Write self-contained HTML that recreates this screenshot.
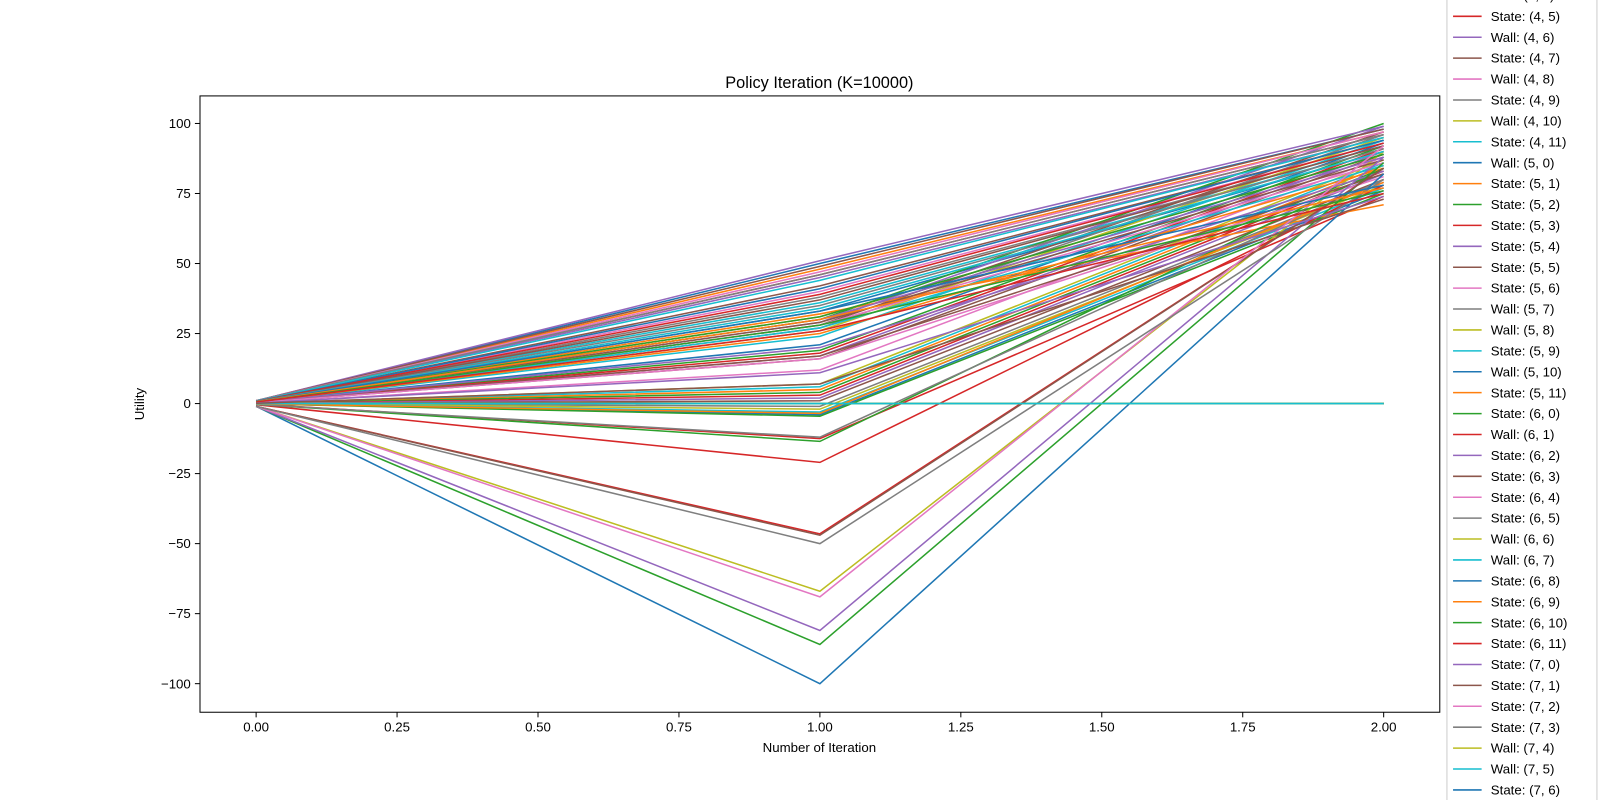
<!DOCTYPE html>
<html><head><meta charset="utf-8"><style>
body{margin:0;background:#fff}
svg{display:block;font-family:"Liberation Sans","DejaVu Sans",sans-serif}
</style></head><body>
<svg id="chart" width="1600" height="800" viewBox="0 0 1600 800" xmlns="http://www.w3.org/2000/svg">
<rect width="1600" height="800" fill="#fff"/>
<defs><clipPath id="clip"><rect x="196" y="94" width="1215" height="604"/></clipPath></defs>
<g transform="scale(1.0204)">
<text x="803" y="86" font-size="16" text-anchor="middle">Policy Iteration (K=10000)</text>
<text x="803" y="737" font-size="13" text-anchor="middle">Number of Iteration</text>
<text transform="translate(141,396) rotate(-90)" font-size="13" text-anchor="middle">Utility</text>
<g id="lines" clip-path="url(#clip)"></g>
<g id="axes"></g>
<g id="legend"></g>
</g>
</svg>
<script>
const types = [
'S','S','W','S','S','S','S','S','W','S','S','S',
'S','W','S','S','W','S','S','S','S','W','S','S',
'S','S','S','W','S','S','W','S','S','S','S','W',
'W','S','S','S','S','W','S','S','S','S','S','S',
'S','S','S','W','W','S','W','S','W','S','W','S',
'W','S','S','S','S','S','S','W','W','S','W','S',
'S','W','S','S','S','S','W','W','S','S','S','S',
'S','S','S','S','W','W','S','S','S','S','S','S'];
const v0 = [
1,1,0,1,1,0.8,0.8,0.7,0,0.7,0.6,0.6,
0.6,0,0.5,0.5,0,0.5,0.4,0.4,0.4,0,0.3,0.3,
0.3,0.3,0.2,0,0.1,0.1,0,0.1,0.1,0,0,0,
0,0,0,-0.1,-0.1,0,-0.1,-0.2,1,1,1,1,
-1,0.9,0.8,0,0,0.8,0,0.7,0,0.7,0,0.6,
0,0.6,0.6,-0.4,0.6,0.5,0.5,0,0,0.5,0,0.5,
-0.3,0,0.4,0.3,0.3,-0.3,0,0,-1,-0.1,-1,-1,
-1,-1,-1,-1,0,0,0.6,0.6,0.5,0.5,0.2,0.1];
const v1 = [
50,48,0,46,45,42,40,38,0,36,33,31,
30,0,29,28,0,27,26,24,21,0,19,18,
17,16,12,0,7,6,0,5,4,3,2,1,
0,-1,-2,-3,-4,0,-4.5,-12.5,51,49,47,46,
-67,44,41,0,0,39,0,37,0,35,0,34,
0,32,31,-21,30,29,28,0,0,27,0,25,
-13.5,0,20,17,16,-12,0,0,-100,-3.5,-86,-46.5,
-81,-47,-69,-50,0,0,33,30,28,26,11,7];
const v2 = [
98,97,0,96,95,94,93,92,0,91,90,89,
100,0,99,97,0,96,95,94,93,0,92,91,
90,89,88,0,87,86,0,85,84,83,82,80,
0,79,78,77,76,0,75,74,99,98,97,96,
90,95,94,0,0,93,0,92,0,91,0,90,
0,71,89,78,88,87,86,0,0,85,0,84,
84,0,83,82,81,80,0,0,82,79,86,84,
88,84,92,80,0,0,78,77,76,75,74,73];
const xTicks = [0,0.25,0.5,0.75,1,1.25,1.5,1.75,2];
const yTicks = [-100,-75,-50,-25,0,25,50,75,100];
const colors = ['#1f77b4','#ff7f0e','#2ca02c','#d62728','#9467bd','#8c564b','#e377c2','#7f7f7f','#bcbd22','#17becf'];
const NS='http://www.w3.org/2000/svg';
function X(v){return 251+v*552.5;}
function Y(v){return 395.5-v*2.745;}
function mk(tag,attrs,parent){const e=document.createElementNS(NS,tag);for(const k in attrs)e.setAttribute(k,attrs[k]);parent.appendChild(e);return e;}
const lines=document.getElementById('lines');
for(let i=0;i<types.length;i++){
  const vals=[v0[i],v1[i],v2[i]];
  const pts=vals.map((v,j)=>X(j)+','+Y(v)).join(' ');
  const p=mk('polyline',{points:pts,fill:'none',stroke:colors[i%10],'stroke-width':1.5},lines);
  
  
}
const axes=document.getElementById('axes');
const frame=mk('rect',{x:196,y:94,width:1215,height:604,fill:'none',stroke:'#000','stroke-width':1},axes);


xTicks.forEach(t=>{
  const x=X(t);
  const tk=mk('line',{x1:x,x2:x,y1:698,y2:703,stroke:'#000'},axes);
  
  
  const tx=mk('text',{x:x,y:717,'font-size':13,'text-anchor':'middle'},axes);
  tx.textContent=t.toFixed(2);
  
  
});
yTicks.forEach(t=>{
  const y=Y(t);
  const tk=mk('line',{x1:191,x2:196,y1:y,y2:y,stroke:'#000'},axes);
  
  
  const tx=mk('text',{x:187,y:y+4.5,'font-size':13,'text-anchor':'end'},axes);
  tx.textContent=String(t).replace('-','\u2212');
  
  
});
const lg=document.getElementById('legend');
const box=mk('rect',{x:1418,y:-20,width:147,height:840,fill:'#fff',stroke:'#ccc','stroke-width':1},lg);


for(let i=0;i<types.length;i++){
  const y=16+(i-53)*20.49;
  if(y<-15||y>800)continue;
  const r=Math.floor(i/12),c=i%12;
  const g=mk('g',{},lg);
  
  
  mk('line',{x1:1424,x2:1452,y1:y,y2:y,stroke:colors[i%10],'stroke-width':1.5},g);
  const t=mk('text',{x:1461,y:y+4.5,'font-size':13},g);
  t.textContent=(types[i]==='S'?'State':'Wall')+': ('+r+', '+c+')';
}
</script>
</body></html>
